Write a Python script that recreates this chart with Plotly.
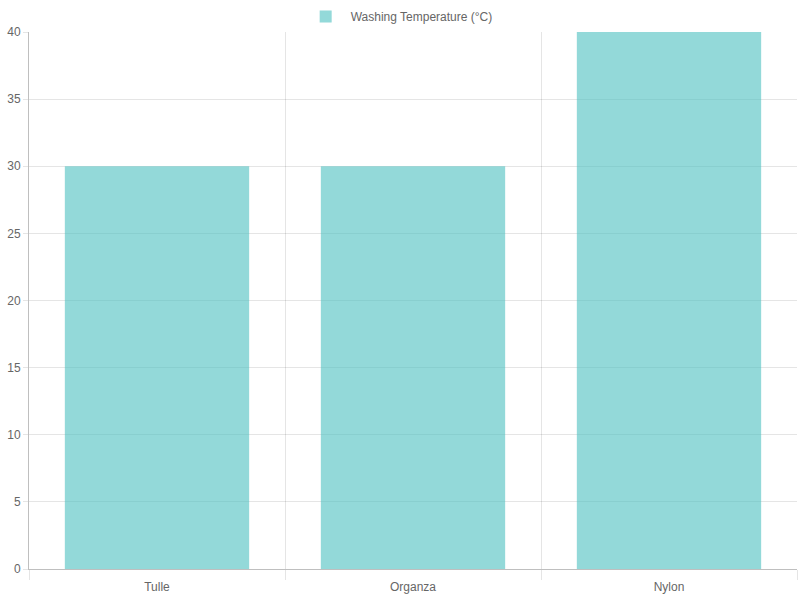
import plotly.graph_objects as go

categories = ["Tulle", "Organza", "Nylon"]
temps = [30, 30, 40]
series_name = "Washing Temperature (°C)"

grid = "rgba(0,0,0,0.1)"
axis_line = "rgba(0,0,0,0.25)"
font = dict(family="Liberation Sans, Arial, sans-serif", size=12, color="#666")

fig = go.Figure()
fig.add_trace(go.Bar(
    x=categories, y=temps, name=series_name,
    marker=dict(color="rgba(75,192,192,0.6)", line=dict(width=0)),
    showlegend=True,
))

fig.update_layout(
    width=800, height=600,
    margin=dict(l=29, r=3, t=32, b=31, autoexpand=False),
    paper_bgcolor="white", plot_bgcolor="white",
    font=font,
    bargap=0.28,
    showlegend=True,
    legend=dict(orientation="h", x=0.482, xanchor="center", y=1.056, yanchor="top",
                font=font, itemwidth=40, bgcolor="rgba(0,0,0,0)"),
    xaxis=dict(
        type="category", tickson="boundaries", automargin=False,
        showgrid=True, gridcolor=grid, gridwidth=1,
        ticks="outside", ticklen=10, tickcolor=grid,
        ticklabelstandoff=7,
        showline=True, linecolor=axis_line, linewidth=1,
        zeroline=False, tickfont=font,
    ),
    yaxis=dict(
        range=[0, 40], tick0=0, dtick=5, automargin=False,
        showgrid=True, gridcolor=grid, gridwidth=1,
        ticks="outside", ticklen=5, tickcolor=grid,
        showline=True, linecolor=axis_line, linewidth=1,
        zeroline=False, tickfont=font,
    ),
)

fig.write_html(
    "out.html",
    config={"displayModeBar": False},
    post_script="document.body.style.margin='0';document.body.style.overflow='hidden';",
)
